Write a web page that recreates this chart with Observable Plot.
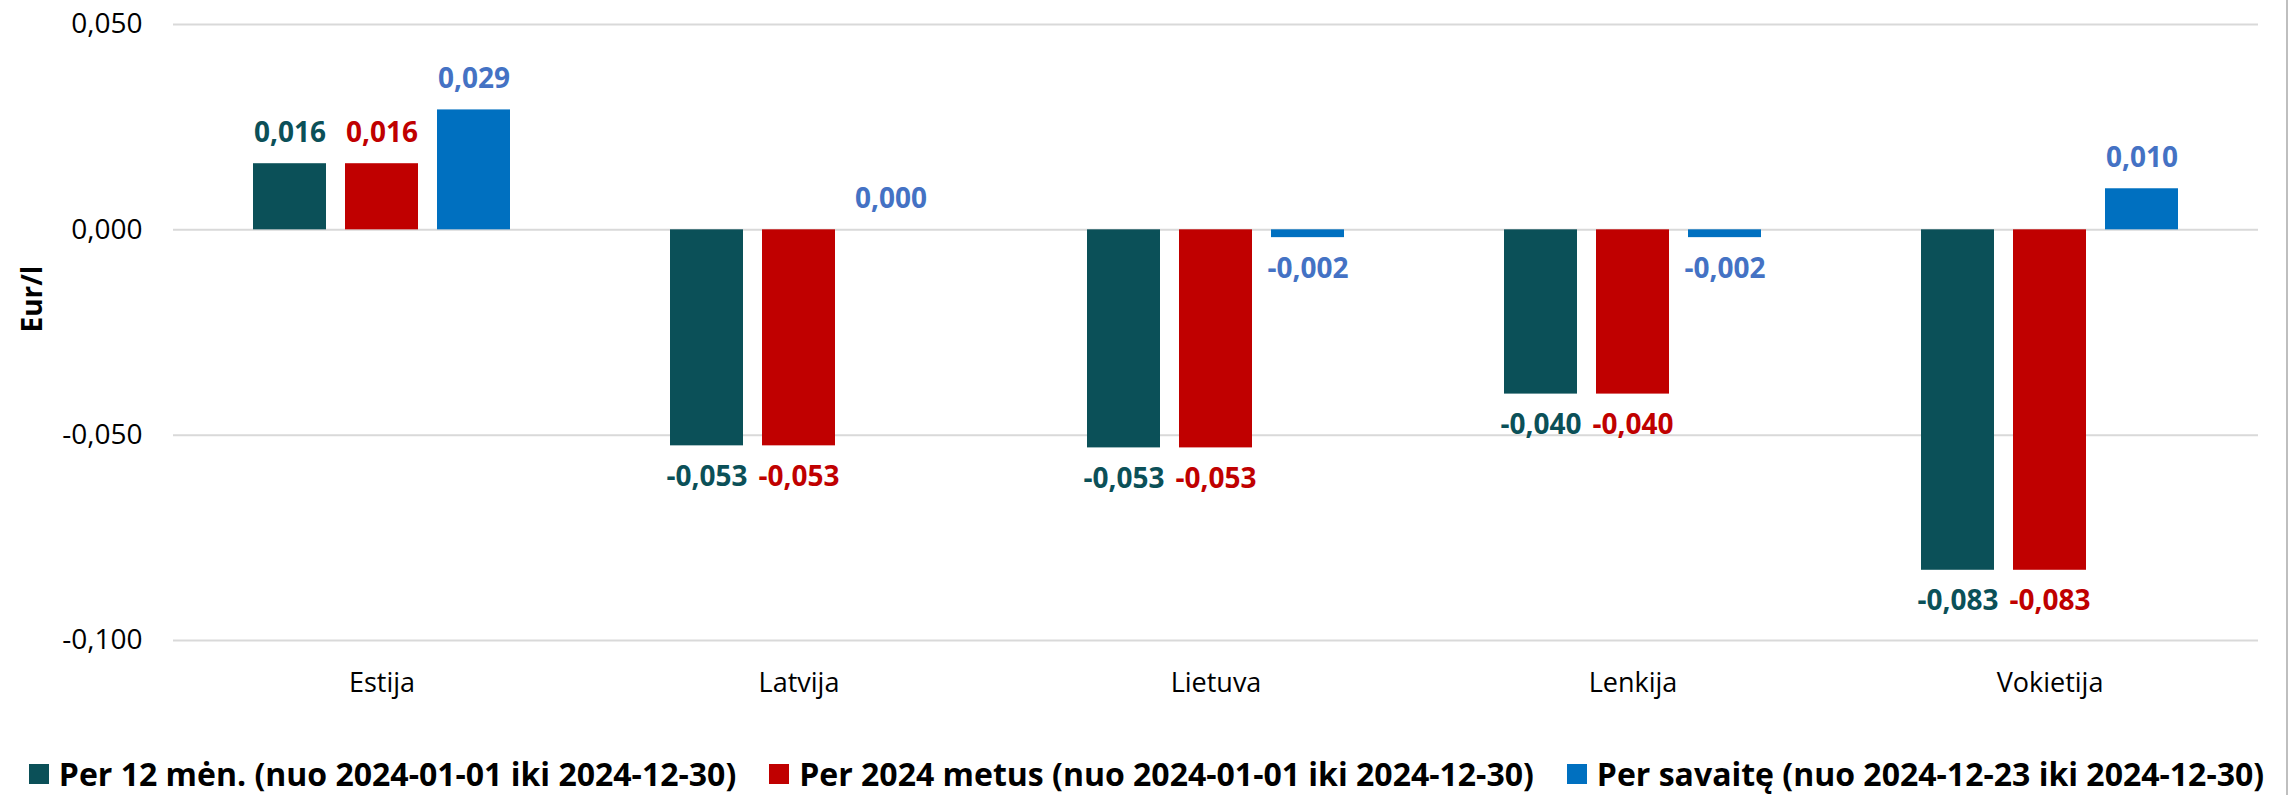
<!DOCTYPE html>
<html><head><meta charset="utf-8">
<script src="https://cdn.jsdelivr.net/npm/d3@7"></script>
<script src="https://cdn.jsdelivr.net/npm/@observablehq/plot@0.6"></script>
<style>
body{margin:0;background:#fff;}
#wrap{position:relative;width:2293px;height:795px;overflow:hidden;font-family:"Open Sans",sans-serif;background:#fff;}
#chart svg{display:block;}
#legend{position:absolute;left:0;top:757px;width:2293px;height:34px;line-height:34px;display:flex;justify-content:center;align-items:center;gap:33px;font-weight:700;font-size:32px;color:#000;white-space:nowrap;}
.item{display:flex;align-items:center;height:34px;line-height:34px;}
.sw{width:20px;height:20px;margin-right:10px;flex:none;}
#border{position:absolute;left:2286px;top:0;width:2px;height:795px;background:#bfbfbf;}
</style></head><body>
<div id="wrap"><div id="chart"></div><div id="legend"></div><div id="border"></div></div>
<script>
const categories = ["Estija", "Latvija", "Lietuva", "Lenkija", "Vokietija"];
const seriesNames = [
  "Per 12 mėn. (nuo 2024-01-01 iki 2024-12-30)",
  "Per 2024 metus (nuo 2024-01-01 iki 2024-12-30)",
  "Per savaitę (nuo 2024-12-23 iki 2024-12-30)"
];
const values12m  = [0.0161, -0.0526, -0.0531, -0.0400, -0.0829];
const values2024 = [0.0161, -0.0526, -0.0531, -0.0400, -0.0829];
const valuesWeek = [0.0292, 0.0000, -0.0019, -0.0019, 0.0100];
const yTicks = [0.05, 0, -0.05, -0.1];
const yTitle = "Eur/l";
const barColors = ["#0B5058", "#C00000", "#0070C0"];
const labelColors = ["#0B5058", "#C00000", "#4472C4"];

const seriesValues = [values12m, values2024, valuesWeek];
const table = categories.flatMap((c, i) => seriesNames.map((s, j) => ({category: c, series: s, si: j, value: seriesValues[j][i]})));

const fmt = d3.formatLocale({decimal: ",", thousands: " ", grouping: [3], currency: ["", "€"], minus: "-"}).format(".3f");

const labelMarks = [];
seriesNames.forEach((s, j) => {
  labelMarks.push(Plot.text(table.filter(d => d.si === j && d.value >= 0), {
    fx: "category", x: "series", y: "value", text: d => fmt(d.value),
    fill: labelColors[j], dy: -31, fontWeight: "bold", fontSize: 28, lineAnchor: "middle"
  }));
  labelMarks.push(Plot.text(table.filter(d => d.si === j && d.value < 0), {
    fx: "category", x: "series", y: "value", text: d => fmt(d.value),
    fill: labelColors[j], dy: 31, fontWeight: "bold", fontSize: 28, lineAnchor: "middle"
  }));
});

const chart = Plot.plot({
  width: 2293, height: 720,
  marginLeft: 171, marginRight: 34, marginTop: 24, marginBottom: 80,
  style: {fontFamily: "Open Sans", fontSize: "28px", color: "#000", background: "transparent"},
  fx: {domain: categories, padding: 0, label: null},
  x: {domain: seriesNames, paddingInner: 0.21, paddingOuter: 0.865, axis: null},
  y: {domain: [-0.1, 0.05], axis: null},
  color: {domain: seriesNames, range: barColors},
  marks: [
    Plot.ruleY(yTicks, {stroke: "#d9d9d9", strokeWidth: 2}),
    Plot.barY(table, {fx: "category", x: "series", y: "value", fill: "series"}),
    ...labelMarks,
    Plot.axisY({ticks: yTicks, tickFormat: fmt, tickSize: 0, tickPadding: 31, fontSize: 28, label: null}),
    Plot.axisFx({anchor: "bottom", tickSize: 0, tickPadding: 32, fontSize: 27, label: null}),
    Plot.text([yTitle], {fx: () => categories[0], frameAnchor: "left", dx: -140, rotate: -90, fontWeight: "bold", fontSize: 28, text: d => d, fill: "#000"})
  ]
});
document.getElementById("chart").appendChild(chart);

const legend = document.getElementById("legend");
seriesNames.forEach((s, j) => {
  const item = document.createElement("div");
  item.className = "item";
  const sw = document.createElement("span");
  sw.className = "sw";
  sw.style.background = barColors[j];
  const t = document.createElement("span");
  t.textContent = s;
  item.appendChild(sw); item.appendChild(t);
  legend.appendChild(item);
});
</script>
</body></html>
